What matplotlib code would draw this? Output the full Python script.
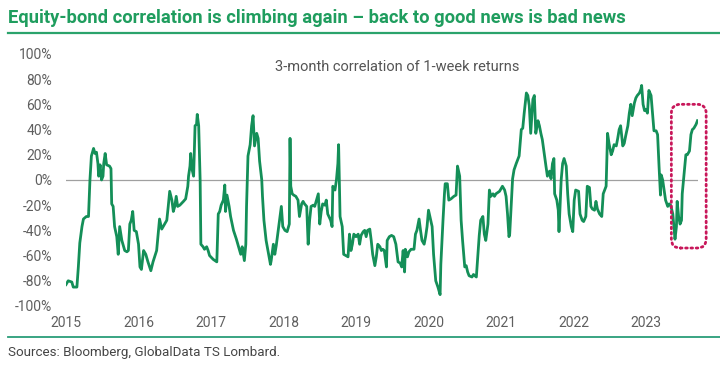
import matplotlib
matplotlib.use("Agg")
import matplotlib.pyplot as plt
from matplotlib.patches import FancyBboxPatch
from matplotlib.transforms import IdentityTransform
from matplotlib.lines import Line2D

# decimal year / correlation (%)
years = [
    2015.00, 2015.03, 2015.08, 2015.10, 2015.15, 2015.17, 2015.19, 2015.22, 2015.24, 2015.28,
    2015.31, 2015.33, 2015.35, 2015.38, 2015.40, 2015.42, 2015.44, 2015.45, 2015.47, 2015.49,
    2015.51, 2015.52, 2015.54, 2015.56, 2015.60, 2015.62, 2015.63, 2015.65, 2015.67, 2015.70,
    2015.72, 2015.74, 2015.77, 2015.79, 2015.81, 2015.84, 2015.86, 2015.88, 2015.90, 2015.92,
    2015.94, 2015.97, 2016.00, 2016.02, 2016.04, 2016.07, 2016.10, 2016.13, 2016.17, 2016.20,
    2016.25, 2016.27, 2016.29, 2016.32, 2016.36, 2016.39, 2016.41, 2016.43, 2016.46, 2016.48,
    2016.50, 2016.52, 2016.54, 2016.57, 2016.62, 2016.65, 2016.68, 2016.69, 2016.71, 2016.72,
    2016.74, 2016.76, 2016.78, 2016.80, 2016.81, 2016.83, 2016.85, 2016.86, 2016.89, 2016.91,
    2016.94, 2016.96, 2016.98, 2017.03, 2017.08, 2017.10, 2017.12, 2017.14, 2017.17, 2017.19,
    2017.20, 2017.22, 2017.25, 2017.27, 2017.31, 2017.35, 2017.38, 2017.41, 2017.43, 2017.46,
    2017.48, 2017.49, 2017.51, 2017.54, 2017.56, 2017.58, 2017.60, 2017.63, 2017.65, 2017.67,
    2017.70, 2017.71, 2017.73, 2017.76, 2017.80, 2017.82, 2017.83, 2017.86, 2017.88, 2017.90,
    2017.92, 2017.95, 2017.97, 2017.99, 2018.02, 2018.05, 2018.08, 2018.09, 2018.10, 2018.12,
    2018.14, 2018.17, 2018.20, 2018.22, 2018.25, 2018.27, 2018.29, 2018.32, 2018.34, 2018.36,
    2018.38, 2018.41, 2018.43, 2018.45, 2018.48, 2018.50, 2018.52, 2018.54, 2018.57, 2018.59,
    2018.61, 2018.65, 2018.67, 2018.68, 2018.71, 2018.73, 2018.75, 2018.76, 2018.78, 2018.81,
    2018.83, 2018.86, 2018.89, 2018.91, 2018.93, 2018.95, 2018.97, 2019.00, 2019.03, 2019.05,
    2019.07, 2019.10, 2019.12, 2019.14, 2019.16, 2019.19, 2019.21, 2019.23, 2019.26, 2019.28,
    2019.30, 2019.33, 2019.35, 2019.37, 2019.39, 2019.42, 2019.43, 2019.46, 2019.49, 2019.52,
    2019.55, 2019.58, 2019.61, 2019.63, 2019.65, 2019.67, 2019.68, 2019.71, 2019.73, 2019.76,
    2019.80, 2019.82, 2019.84, 2019.87, 2019.89, 2019.91, 2019.94, 2019.96, 2019.98, 2020.00,
    2020.03, 2020.05, 2020.07, 2020.10, 2020.13, 2020.16, 2020.17, 2020.20, 2020.22, 2020.23,
    2020.26, 2020.28, 2020.31, 2020.35, 2020.38, 2020.40, 2020.43, 2020.45, 2020.47, 2020.50,
    2020.52, 2020.54, 2020.56, 2020.60, 2020.62, 2020.66, 2020.68, 2020.70, 2020.72, 2020.75,
    2020.77, 2020.79, 2020.82, 2020.84, 2020.86, 2020.89, 2020.91, 2020.93, 2020.98, 2021.02,
    2021.05, 2021.07, 2021.09, 2021.11, 2021.12, 2021.14, 2021.16, 2021.18, 2021.21, 2021.23,
    2021.25, 2021.28, 2021.30, 2021.32, 2021.35, 2021.37, 2021.39, 2021.41, 2021.44, 2021.46,
    2021.48, 2021.51, 2021.53, 2021.55, 2021.57, 2021.60, 2021.62, 2021.64, 2021.67, 2021.69,
    2021.71, 2021.73, 2021.74, 2021.77, 2021.79, 2021.80, 2021.83, 2021.85, 2021.87, 2021.90,
    2021.92, 2021.94, 2021.97, 2021.99, 2022.01, 2022.03, 2022.07, 2022.09, 2022.12, 2022.14,
    2022.17, 2022.19, 2022.22, 2022.24, 2022.26, 2022.29, 2022.31, 2022.33, 2022.36, 2022.39,
    2022.41, 2022.45, 2022.47, 2022.49, 2022.52, 2022.54, 2022.56, 2022.59, 2022.61, 2022.63,
    2022.65, 2022.68, 2022.70, 2022.72, 2022.75, 2022.77, 2022.79, 2022.81, 2022.84, 2022.86,
    2022.88, 2022.91, 2022.93, 2022.94, 2022.96, 2022.98, 2023.00, 2023.02, 2023.04, 2023.07,
    2023.09, 2023.11, 2023.14, 2023.16, 2023.18, 2023.20, 2023.21, 2023.23, 2023.25, 2023.27,
    2023.30, 2023.32, 2023.34, 2023.37, 2023.39, 2023.40, 2023.42, 2023.43, 2023.45, 2023.47,
    2023.49, 2023.50, 2023.53, 2023.55, 2023.57, 2023.60, 2023.62, 2023.64, 2023.66, 2023.69,
    2023.71,
]
corr = [
    -83, -80, -81, -85, -85, -69, -50, -37, -31, -29,
    -29, 0, 19, 25, 21, 22, 13, 3, 12, 0,
    3, 13, 21, 12, 11, 9, -19, -21, -37, -45,
    -59, -37, -48, -52, -56, -57, -56, -35, -32, -25,
    -40, -41, -51, -69, -71, -56, -59, -65, -72, -65,
    -56, -43, -31, -39, -35, -32, -21, -9, -16, -25,
    -21, -13, -21, -20, -17, -15, -5, 3, 11, 21,
    8, 3, 43, 44, 52, 43, 0, -51, -53, -55,
    -53, -56, -60, -63, -65, -27, -25, -20, -16, -4,
    -25, -12, -21, -29, -40, -47, -53, -59, -53, -64,
    -51, -21, 19, 28, 43, 51, 27, 37, 33, 15,
    0, -13, -32, -48, -61, -67, -64, -51, -59, -52,
    -43, -29, -21, -37, -40, -41, -35, 33, -5, -11,
    -12, -13, -16, -29, -19, -17, -19, -21, -51, -32,
    -21, -20, -21, -17, -11, -35, -25, -19, -20, -16,
    -27, -32, -37, -5, -8, 0, 13, 28, -29, -37,
    -59, -60, -61, -43, -56, -51, -43, -45, -43, -51,
    -44, -41, -40, -45, -40, -39, -48, -59, -68, -61,
    -51, -53, -56, -55, -56, -69, -48, -45, -44, -45,
    -51, -65, -66, -69, -56, -73, -55, -61, -57, -55,
    -55, -43, -40, -31, -40, -48, -51, -45, -37, -24,
    -32, -37, -59, -80, -85, -91, -67, -32, -11, -3,
    -3, -16, -15, -13, -12, 11, 3, -32, -48, -69,
    -68, -73, -76, -77, -75, -77, -61, -44, -32, -29,
    -43, -48, -35, -8, -13, -11, -13, -11, -9, -5,
    -8, -13, -27, -45, -43, -21, 1, 8, 13, 16,
    19, 40, 41, 53, 69, 67, 59, 37, 64, 67,
    37, 47, 43, 37, 32, 19, 11, 3, 7, 1,
    13, 17, -11, -16, -24, -41, 0, 13, 17, 11,
    -11, -27, -37, -41, -16, -8, -9, -27, -32, -33,
    -29, -5, -6, -21, -23, -24, -17, -23, -27, -29,
    -11, -5, 37, 29, 20, 23, 28, 27, 33, 40,
    43, 27, 29, 35, 43, 53, 60, 51, 61, 65,
    67, 69, 72, 75, 60, 55, 56, 53, 71, 67,
    53, 39, 39, 36, 11, -12, 4, 0, -8, -16,
    -21, -19, -20, -27, -40, -47, -37, -17, -29, -35,
    -32, -11, 8, 20, 20, 23, 36, 40, 41, 44,
    47,
]

year_ticks = list(range(2015, 2024))
pct_ticks = list(range(-100, 101, 20))

# highlighted recent rebound (dotted box corners, data units)
box_x = [2023.35, 2023.83]
box_y = [-54, 60]

green = '#148f58'
title_green = '#1f9d5e'
grey = '#5f5f5f'

fig = plt.figure(figsize=(7.2, 3.68), dpi=100)
ax = fig.add_axes([0.0917, 0.1685, 0.878, 0.685])

ax.plot(years, corr, color=green, linewidth=2.0, solid_joinstyle='round', zorder=3)
ax.axhline(0, color='#a0a0a0', linewidth=0.9, zorder=2)

ax.set_xlim(2015, 2023.72)
ax.set_ylim(-100, 100)
ax.set_xticks(year_ticks)
ax.set_xticklabels([str(y) for y in year_ticks])
ax.set_yticks(pct_ticks)
ax.set_yticklabels([f'{v}%' for v in pct_ticks])
ax.tick_params(length=0, labelsize=10, labelcolor=grey)
ax.tick_params(axis='y', pad=10)
ax.tick_params(axis='x', pad=7)
for lab in ax.get_xticklabels() + ax.get_yticklabels():
    lab.set_family(['Roboto', 'DejaVu Sans'])
for s in ax.spines.values():
    s.set_visible(False)

ax.text(0.524, 0.95, '3-month correlation of 1-week returns', transform=ax.transAxes,
        ha='center', va='center', fontsize=10.5, color='#555555',
        family=['Roboto', 'DejaVu Sans'])

# dotted rounded box, drawn in pixel space so the corners stay round
p0 = ax.transData.transform((box_x[0], box_y[0]))
p1 = ax.transData.transform((box_x[1], box_y[1]))
box = FancyBboxPatch((p0[0], p0[1]), p1[0] - p0[0], p1[1] - p0[1],
                     boxstyle='round,pad=0,rounding_size=9',
                     transform=IdentityTransform(), fill=False,
                     edgecolor='#c8175a', linewidth=2.0, linestyle=(0, (0.6, 1.3)),
                     capstyle='round')
fig.add_artist(box)

fig.text(0.011, 0.951, 'Equity-bond correlation is climbing again \u2013 back to good news is bad news',
         ha='left', va='center', fontsize=13.2, fontweight='bold', color=title_green,
         family=['Liberation Sans Narrow', 'Roboto', 'DejaVu Sans'])
fig.add_artist(Line2D([0.011, 1.0], [0.910, 0.910], transform=fig.transFigure,
                      color='#2ba36c', linewidth=1.6))
fig.add_artist(Line2D([0.011, 1.0], [0.085, 0.085], transform=fig.transFigure,
                      color='#2a9d78', linewidth=1.3))
fig.text(0.011, 0.043, 'Sources: Bloomberg, GlobalData TS Lombard.', ha='left', va='center',
         fontsize=9.6, color='#444444', family=['Roboto', 'DejaVu Sans'])

fig.savefig('out.png', dpi=100)
